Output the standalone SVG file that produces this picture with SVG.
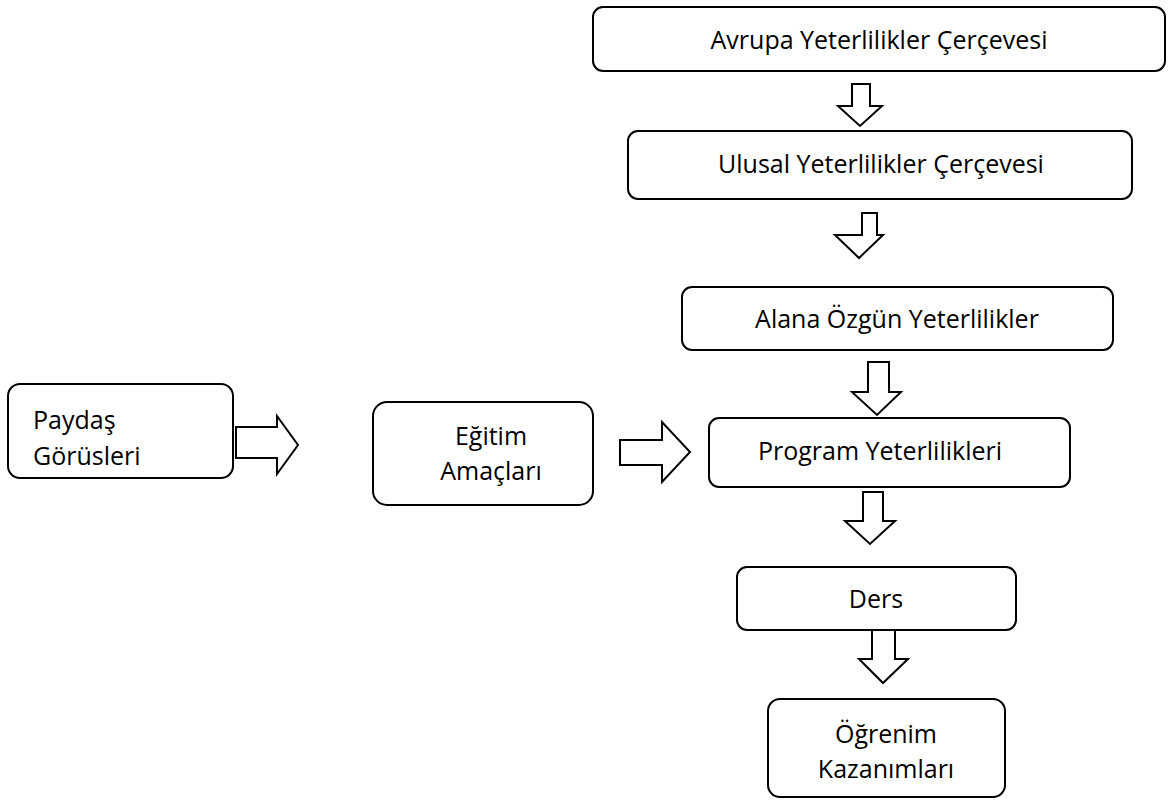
<svg xmlns="http://www.w3.org/2000/svg" width="1168" height="800" viewBox="0 0 1168 800">
  <style>
    .box { fill: #ffffff; stroke: #000000; stroke-width: 2; }
    .arrow { fill: #ffffff; stroke: #000000; stroke-width: 2; stroke-linejoin: miter; }
    .label { font-family: "Open Sans", "Noto Sans", "Liberation Sans", sans-serif; font-size: 25px; fill: #000000; }
    .mid { text-anchor: middle; }
  </style>
  <rect width="1168" height="800" fill="#ffffff"/>

  <!-- block arrows between the boxes -->
  <g id="connectors">
    <polygon class="arrow" points="852,84 870,84 870,106 882,106 860,126 838,106 852,106"/>
    <polygon class="arrow" points="862,213 877,213 877,235 883,235 859,258 835,235 862,235"/>
    <polygon class="arrow" points="868,362 889,362 889,392 901,392 877,415 852,392 868,392"/>
    <polygon class="arrow" points="863,492 883,492 883,521 895,521 870,544 845,521 863,521"/>
    <polygon class="arrow" points="872,630 895,630 895,659 908,659 883,683 859,659 872,659"/>
    <polygon class="arrow" points="236,427 277,427 277,416 298,445 277,474 277,458 236,458"/>
    <polygon class="arrow" points="620,440 662,440 662,422 690,452 662,482 662,465 620,465"/>
  </g>

  <g id="avrupa">
    <rect class="box" x="593" y="7" width="572" height="64" rx="10"/>
    <text class="label mid" x="879" y="49">Avrupa Yeterlilikler Çerçevesi</text>
  </g>

  <g id="ulusal">
    <rect class="box" x="628" y="131" width="504" height="68" rx="10"/>
    <text class="label mid" x="881" y="173">Ulusal Yeterlilikler Çerçevesi</text>
  </g>

  <g id="alana">
    <rect class="box" x="682" y="287" width="431" height="63" rx="10"/>
    <text class="label mid" x="897" y="328">Alana Özgün Yeterlilikler</text>
  </g>

  <g id="program">
    <rect class="box" x="709" y="418" width="361" height="69" rx="10"/>
    <text class="label mid" x="880" y="460">Program Yeterlilikleri</text>
  </g>

  <g id="ders">
    <rect class="box" x="737" y="567" width="279" height="63" rx="10"/>
    <text class="label mid" x="876" y="608">Ders</text>
  </g>

  <g id="ogrenim">
    <rect class="box" x="768" y="699" width="237" height="98" rx="12"/>
    <text class="label mid" x="886" y="743">Öğrenim</text>
    <text class="label mid" x="886" y="778">Kazanımları</text>
  </g>

  <g id="paydas">
    <rect class="box" x="8" y="384" width="225" height="94" rx="12"/>
    <text class="label" x="33" y="429">Paydaş</text>
    <text class="label" x="33" y="465">Görüsleri</text>
  </g>

  <g id="egitim">
    <rect class="box" x="373" y="402" width="220" height="103" rx="14"/>
    <text class="label mid" x="491" y="445">Eğitim</text>
    <text class="label mid" x="491" y="480">Amaçları</text>
  </g>
</svg>
